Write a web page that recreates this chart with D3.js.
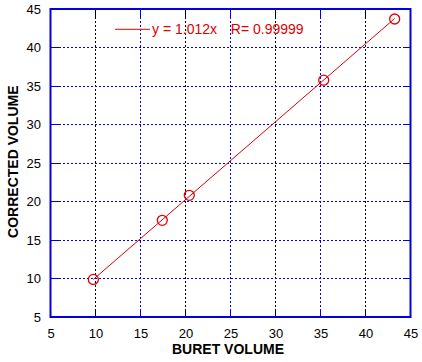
<!DOCTYPE html>
<html lang="en">
<head>
    <meta charset="UTF-8">
    <title>Buret calibration</title>
    <script src="https://d3js.org/d3.v7.min.js"></script>
    <style>
        body { margin: 0; background: #fff; }
        text { font-family: "Liberation Sans", Arial, sans-serif; }
        .grid line, .ticks line { shape-rendering: crispEdges; }
    </style>
</head>
<body>
    <svg width="422" height="362"></svg>

    <script>
        // Data
        const buretVolume = [9.76, 17.42, 20.42, 35.36, 43.24];
        const correctedVolume = [9.88, 17.55, 20.8, 35.76, 43.7];
        const fitSlope = 1.012;
        const xTicks = [5, 10, 15, 20, 25, 30, 35, 40, 45];
        const yTicks = [5, 10, 15, 20, 25, 30, 35, 40, 45];
        const blackGridX = [10, 20, 30, 40];
        const legendLabels = ["y = 1.012x", "R= 0.99999"];
        const xTitle = "BURET VOLUME";
        const yTitle = "CORRECTED VOLUME";

        const points = buretVolume.map((x, i) => ({ x: x, y: correctedVolume[i] }));

        // Plot box
        const margin = { top: 9, right: 11.5, bottom: 45, left: 50.5 },
              width = 422 - margin.left - margin.right,
              height = 362 - margin.top - margin.bottom;

        const svg = d3.select("svg")
                      .append("g")
                      .attr("transform", `translate(${margin.left},${margin.top})`);

        const xScale = d3.scaleLinear().domain([5, 45]).range([0, width]);
        const yScale = d3.scaleLinear().domain([5, 45]).range([height, 0]);

        const blue = "#0000e0";
        const gridColor = v => blackGridX.includes(v) ? "#000" : blue;

        // Vertical grid lines
        const inner = xTicks.slice(1, -1);
        svg.append("g").attr("class", "grid").selectAll("line")
           .data(inner)
           .join("line")
           .attr("x1", d => xScale(d)).attr("x2", d => xScale(d))
           .attr("y1", 0).attr("y2", height)
           .attr("stroke", gridColor)
           .attr("stroke-width", 1)
           .attr("stroke-dasharray", "2,2");

        // Horizontal grid lines
        svg.append("g").attr("class", "grid").selectAll("line")
           .data(yTicks.slice(1, -1))
           .join("line")
           .attr("x1", 0).attr("x2", width)
           .attr("y1", d => yScale(d)).attr("y2", d => yScale(d))
           .attr("stroke", blue)
           .attr("stroke-width", 1)
           .attr("stroke-dasharray", "2,2");

        // Inner tick marks on the frame
        const tickLen = 8;
        svg.append("g").attr("class", "ticks").selectAll("line")
           .data(inner.flatMap(d => [[d, 0, tickLen], [d, height - tickLen, height]]))
           .join("line")
           .attr("x1", d => xScale(d[0])).attr("x2", d => xScale(d[0]))
           .attr("y1", d => d[1]).attr("y2", d => d[2])
           .attr("stroke", d => gridColor(d[0]));

        svg.append("g").attr("class", "ticks").selectAll("line")
           .data(yTicks.slice(1, -1).flatMap(d => [[d, 0, tickLen], [d, width - tickLen, width]]))
           .join("line")
           .attr("y1", d => yScale(d[0])).attr("y2", d => yScale(d[0]))
           .attr("x1", d => d[1]).attr("x2", d => d[2])
           .attr("stroke", blue);

        // Axis labels (no tick marks, just text)
        const xAxis = svg.append("g")
           .attr("transform", `translate(0, ${height})`)
           .call(d3.axisBottom(xScale).tickValues(xTicks).tickSize(0).tickPadding(12));
        const yAxis = svg.append("g")
           .call(d3.axisLeft(yScale).tickValues(yTicks).tickSize(0).tickPadding(9.5));
        [xAxis, yAxis].forEach(a => {
            a.select(".domain").remove();
            a.selectAll("text")
             .attr("fill", "#000")
             .style("font-size", "13px")
             .style("font-family", "'Liberation Sans', Arial, sans-serif");
        });

        // Frame
        svg.append("rect")
           .attr("x", 0).attr("y", 0)
           .attr("width", width).attr("height", height)
           .attr("fill", "none")
           .attr("stroke", blue)
           .attr("stroke-width", 2);

        // Fit line y = 1.012x over the data range
        const xr = d3.extent(buretVolume);
        svg.append("path")
           .datum(xr.map(x => ({ x: x, y: fitSlope * x })))
           .attr("fill", "none")
           .attr("stroke", "#e00000")
           .attr("stroke-width", 1)
           .attr("d", d3.line().x(d => xScale(d.x)).y(d => yScale(d.y)));

        // Data markers
        svg.append("g").selectAll("circle")
           .data(points)
           .join("circle")
           .attr("cx", d => xScale(d.x))
           .attr("cy", d => yScale(d.y))
           .attr("r", 5)
           .attr("fill", "none")
           .attr("stroke", "#e00000")
           .attr("stroke-width", 1.3);

        // Legend
        const lg = svg.append("g").attr("transform", "translate(64.5, 20.3)");
        lg.append("line")
          .attr("x1", 0).attr("x2", 35)
          .attr("y1", 0).attr("y2", 0)
          .attr("stroke", "#e00000");
        lg.append("text")
          .attr("x", 37).attr("y", 5)
          .attr("fill", "#e00000")
          .style("font-size", "14px")
          .text(legendLabels[0]);
        lg.append("text")
          .attr("x", 115.8).attr("y", 5)
          .attr("fill", "#e00000")
          .style("font-size", "14px")
          .text(legendLabels[1]);

        // Axis titles
        svg.append("text")
           .attr("x", 228 - margin.left)
           .attr("y", 354 - margin.top)
           .attr("text-anchor", "middle")
           .style("font-size", "14px")
           .style("font-weight", "bold")
           .text(xTitle);

        svg.append("text")
           .attr("transform", `translate(${17.7 - margin.left}, ${161.7 - margin.top}) rotate(-90)`)
           .attr("text-anchor", "middle")
           .style("font-size", "14px")
           .style("font-weight", "bold")
           .text(yTitle);
    </script>
</body>
</html>
